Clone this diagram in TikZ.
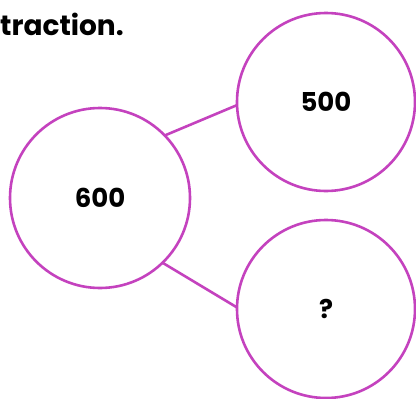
\documentclass[tikz,border=0pt]{standalone}
\usepackage{fontspec}
\setmainfont{Poppins}
\definecolor{ring}{RGB}{196,66,190}
\begin{document}
\begin{tikzpicture}[x=1pt,y=-1pt,
  ring/.style={circle,draw=ring,line width=2.6pt,inner sep=0pt,outer sep=0pt,minimum size=#1,font=\fontsize{26}{28}\selectfont\bfseries},
  link/.style={draw=ring,line width=2.6pt}]
\useasboundingbox (0,0) rectangle (416,399);
\node[anchor=base west,inner sep=0pt,font=\fontsize{28}{30}\selectfont\bfseries] (cap) at (0,35) {traction.};
\node[ring=180pt] (a) at (100,198) {600};
\node[ring=178pt] (b) at (326,102) {500};
\node[ring=178pt] (c) at (326,309) {?};
\draw[link] (a.44) -- (b.182);
\draw[link] (a.314) -- (c.179);
\end{tikzpicture}
\end{document}
